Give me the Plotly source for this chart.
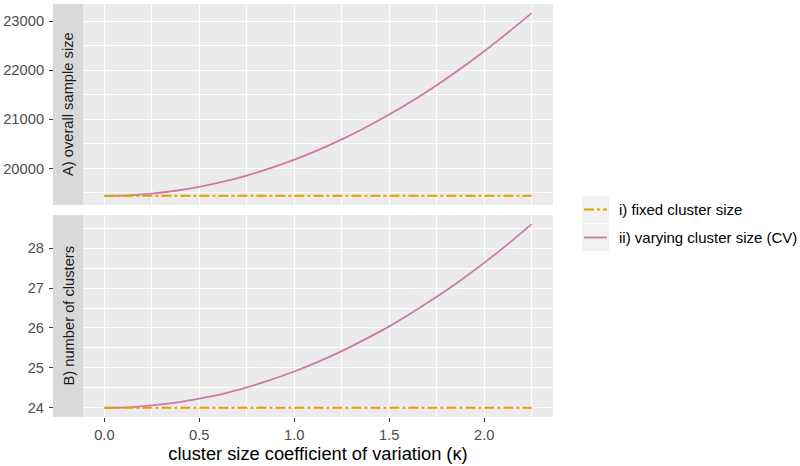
import plotly.graph_objects as go

# ---- data ----
kappa = [0.0, 0.125, 0.25, 0.375, 0.5, 0.625, 0.75, 0.875, 1.0, 1.125,
         1.25, 1.375, 1.5, 1.625, 1.75, 1.875, 2.0, 2.125, 2.25]
clusters_varying = [24.00, 24.01, 24.06, 24.13, 24.23, 24.35, 24.51, 24.70, 24.91, 25.15,
                    25.42, 25.72, 26.04, 26.40, 26.78, 27.19, 27.63, 28.10, 28.60]
clusters_fixed = [24.0] * len(kappa)
size_varying = [19440, 19451, 19486, 19544, 19624, 19728, 19854, 20004, 20176, 20372,
                20590, 20832, 21096, 21383, 21694, 22027, 22384, 22763, 23160]
size_fixed = [19440] * len(kappa)

series_names = ["i) fixed cluster size", "ii) varying cluster size (CV)"]
strip_labels = ["A) overall sample size", "B) number of clusters"]
x_title = "cluster size coefficient of variation (κ)"

# ---- styling ----
W, H = 800, 466
FONT = "Liberation Sans, Arial, Helvetica, sans-serif"
ORANGE = "#E69F00"
PINK = "#CC79A7"
DASHDOT = "10px,3px,3px,3px"
TXT = 14.7

px = lambda x: x / W
py = lambda y: 1 - y / H

panel_x = [px(83), px(553)]
dom_a = [py(205), py(4)]
dom_b = [py(417), py(215)]

def expand(vals_list):
    lo = min(min(v) for v in vals_list)
    hi = max(max(v) for v in vals_list)
    pad = 0.05 * (hi - lo)
    return [lo - pad, hi + pad]

fig = go.Figure()

# panel A
fig.add_trace(go.Scatter(x=kappa, y=size_varying, mode="lines", line=dict(color=PINK, width=1.8, shape="spline"),
                         xaxis="x", yaxis="y", showlegend=False, name=series_names[1]))
fig.add_trace(go.Scatter(x=kappa, y=size_fixed, mode="lines", line=dict(color=ORANGE, width=2, dash=DASHDOT),
                         xaxis="x", yaxis="y", showlegend=False, name=series_names[0]))
# panel B
fig.add_trace(go.Scatter(x=kappa, y=clusters_varying, mode="lines", line=dict(color=PINK, width=1.8, shape="spline"),
                         xaxis="x2", yaxis="y2", showlegend=False, name=series_names[1]))
fig.add_trace(go.Scatter(x=kappa, y=clusters_fixed, mode="lines", line=dict(color=ORANGE, width=2, dash=DASHDOT),
                         xaxis="x2", yaxis="y2", showlegend=False, name=series_names[0]))

xr = [min(kappa) - 0.05 * (max(kappa) - min(kappa)), max(kappa) + 0.05 * (max(kappa) - min(kappa))]

grid = dict(showgrid=True, gridcolor="white", gridwidth=1.1, zeroline=False, showline=False)
minor_x = dict(showgrid=True, gridcolor="white", gridwidth=0.55, dtick=0.25, ticks="")
tickstyle = dict(ticks="outside", ticklen=4, tickwidth=1.07, tickcolor="#333333",
                 tickfont=dict(size=TXT, color="#4D4D4D", family=FONT))

fig.update_layout(
    width=W, height=H,
    margin=dict(l=0, r=0, t=0, b=0),
    paper_bgcolor="white", plot_bgcolor="#EBEBEB",
    font=dict(family=FONT, color="#4D4D4D", size=TXT),
    showlegend=False,
    xaxis=dict(domain=panel_x, anchor="y", range=xr, tick0=0, dtick=0.5, showticklabels=False,
               ticks="", minor=minor_x, **grid),
    xaxis2=dict(domain=panel_x, anchor="y2", range=xr, tick0=0, dtick=0.5, tickformat=".1f",
                minor=minor_x, **tickstyle,
                title=dict(text=x_title, font=dict(size=18.3, color="black", family=FONT), standoff=5), **grid),
    yaxis=dict(domain=dom_a, anchor="free", position=px(53), range=expand([size_varying, size_fixed]),
               dtick=1000, tickformat="d", ticklabelstandoff=2, **tickstyle,
               minor=dict(showgrid=True, gridcolor="white", gridwidth=0.55, dtick=500, ticks=""), **grid),
    yaxis2=dict(domain=dom_b, anchor="free", position=px(53), range=expand([clusters_varying, clusters_fixed]),
                dtick=1, tickformat="d", ticklabelstandoff=2, **tickstyle,
                minor=dict(showgrid=True, gridcolor="white", gridwidth=0.55, dtick=0.5, ticks=""), **grid),
)

shapes = []
annotations = []
# facet strips (left side)
for dom, label in zip([dom_a, dom_b], strip_labels):
    shapes.append(dict(type="rect", xref="paper", yref="paper", x0=px(53), x1=px(83),
                       y0=dom[0], y1=dom[1], fillcolor="#D9D9D9", line=dict(width=0), layer="below"))
    annotations.append(dict(xref="paper", yref="paper", x=px(68.5), y=(dom[0] + dom[1]) / 2,
                            text=label, textangle=-90, showarrow=False,
                            font=dict(size=TXT, color="#1A1A1A", family=FONT),
                            xanchor="center", yanchor="middle"))

# manual legend
key_rows = [(196, 223, ORANGE, DASHDOT, 2), (224, 251, PINK, "solid", 1.8)]
for (y0, y1, col, dash, w), name in zip(key_rows, series_names):
    shapes.append(dict(type="rect", xref="paper", yref="paper", x0=px(582), x1=px(609),
                       y0=py(y1), y1=py(y0), fillcolor="#F2F2F2", line=dict(width=0)))
    yc = (y0 + y1) / 2
    shapes.append(dict(type="line", xref="paper", yref="paper", x0=px(584), x1=px(607),
                       y0=py(yc), y1=py(yc), line=dict(color=col, width=w, dash=dash)))
    annotations.append(dict(xref="paper", yref="paper", x=px(618), y=py(yc), text=name,
                            showarrow=False, xanchor="left", yanchor="middle", borderpad=0,
                            font=dict(size=15, color="black", family=FONT)))

fig.update_layout(shapes=shapes, annotations=annotations)
fig.write_html("out.html", config={"displayModeBar": False},
               post_script="document.body.style.margin='0';document.body.style.overflow='hidden';")
